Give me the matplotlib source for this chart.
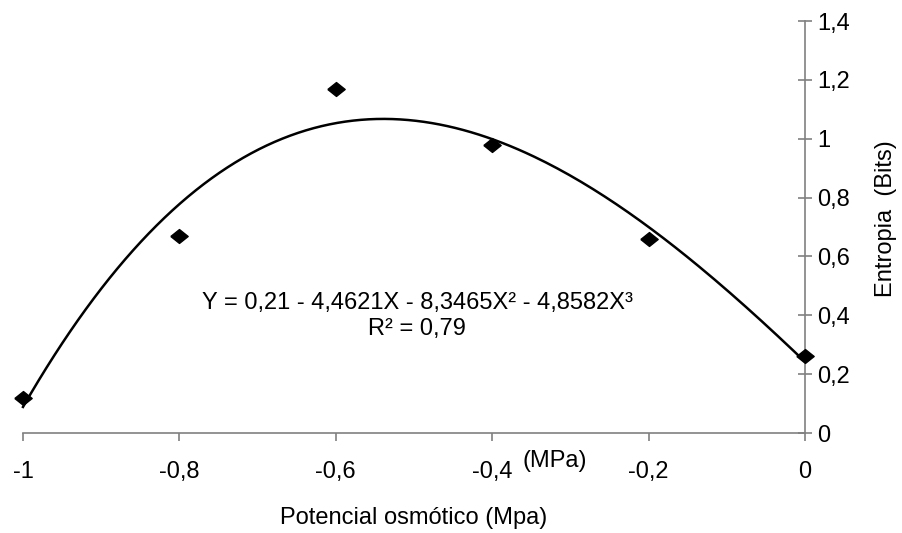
import matplotlib
matplotlib.use("Agg")
import matplotlib.pyplot as plt
import numpy as np
from matplotlib.ticker import FuncFormatter

plt.rcParams["font.family"] = ["Liberation Sans", "DejaVu Sans"]

# data
potencial = [-1.0, -0.8, -0.6, -0.4, -0.2, 0.0]
entropia = [0.12, 0.67, 1.17, 0.98, 0.66, 0.26]

x_ticks = [-1.0, -0.8, -0.6, -0.4, -0.2, 0.0]
y_ticks = [0, 0.2, 0.4, 0.6, 0.8, 1.0, 1.2, 1.4]

EQUATION = "Y = 0,21 - 4,4621X - 8,3465X² - 4,8582X³"
R2_TEXT = "R² = 0,79"

FS = 17
# flat diamond, a bit wider than tall
DIAMOND = [(-1, 0), (0, 0.8), (1, 0), (0, -0.8), (-1, 0)]


def comma(v, _pos=None):
    s = f"{v:.1f}".rstrip("0").rstrip(".")
    if s == "-0":
        s = "0"
    return s.replace(".", ",")


# cubic trendline, same as the one drawn in the chart
coef = np.polyfit(potencial, entropia, 3)
xs = np.linspace(-1, 0, 200)
ys = np.polyval(coef, xs)

fig = plt.figure(figsize=(9.03, 5.33), dpi=100)
ax = fig.add_axes([23 / 903, 1 - 433 / 533, (805 - 23) / 903, (433 - 21) / 533])

ax.plot(xs, ys, color="black", linewidth=1.8, zorder=2, clip_on=False)
ax.plot(potencial, entropia, linestyle="none", marker=DIAMOND, markersize=12.5,
        color="black", zorder=3, clip_on=False)

ax.set_xlim(-1, 0)
ax.set_ylim(0, 1.4)
ax.set_xticks(x_ticks)
ax.set_yticks(y_ticks)
ax.xaxis.set_major_formatter(FuncFormatter(comma))
ax.yaxis.set_major_formatter(FuncFormatter(comma))

for side in ["left", "top"]:
    ax.spines[side].set_visible(False)
for side in ["right", "bottom"]:
    ax.spines[side].set_color("#808080")
    ax.spines[side].set_linewidth(1.2)

ax.yaxis.tick_right()
ax.tick_params(axis="both", colors="#808080", labelcolor="black",
               labelsize=FS, width=1.2)
ax.tick_params(axis="x", direction="out", length=6, pad=14)
ax.tick_params(axis="y", direction="inout", length=10, pad=4)

fig.text(414 / 903, 1 - 518 / 533, "Potencial osmótico (Mpa)", fontsize=FS,
         ha="center", va="center")
fig.text(886 / 903, 1 - 219 / 533, "Entropia  (Bits)", fontsize=FS,
         rotation=90, ha="center", va="center")

ax.text(0.504, 0.301, EQUATION, transform=ax.transAxes, ha="center",
        va="baseline", fontsize=FS)
ax.text(0.504, 0.238, R2_TEXT, transform=ax.transAxes, ha="center",
        va="baseline", fontsize=FS)
ax.text(522 / 903, 1 - 461 / 533, "(MPa)", transform=fig.transFigure,
        ha="left", va="center", fontsize=FS)

fig.savefig("out.png", dpi=100)
